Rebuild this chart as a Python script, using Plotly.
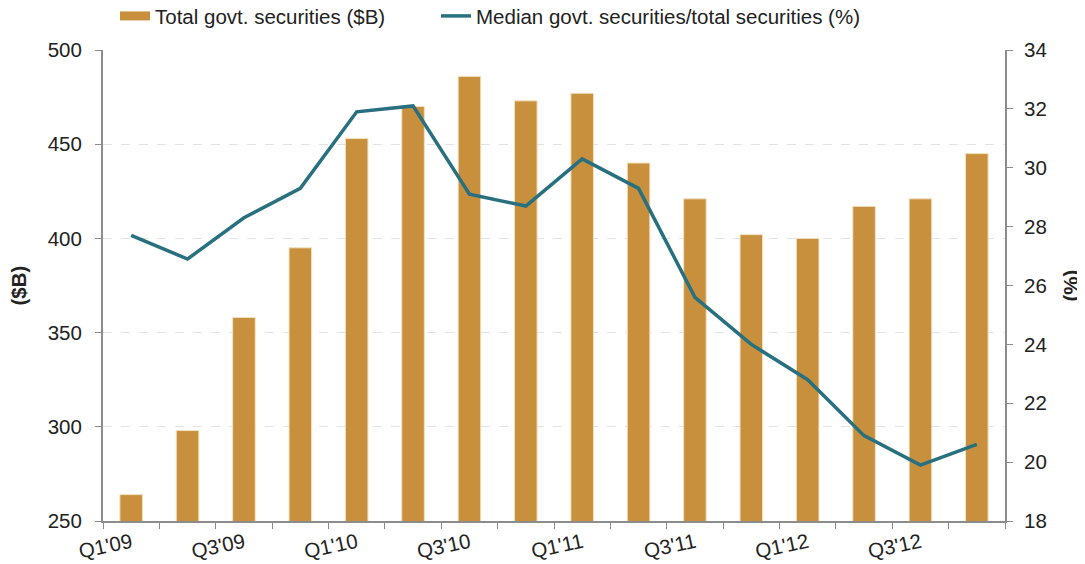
import plotly.graph_objects as go

quarters = ["Q1'09", "Q2'09", "Q3'09", "Q4'09", "Q1'10", "Q2'10", "Q3'10", "Q4'10",
            "Q1'11", "Q2'11", "Q3'11", "Q4'11", "Q1'12", "Q2'12", "Q3'12", "Q4'12"]
tick_labels = ["Q1'09", "", "Q3'09", "", "Q1'10", "", "Q3'10", "",
               "Q1'11", "", "Q3'11", "", "Q1'12", "", "Q3'12", ""]
govt_securities = [264, 298, 358, 395, 453, 470, 486, 473,
                   477, 440, 421, 402, 400, 417, 421, 445]
median_ratio = [27.7, 26.9, 28.3, 29.3, 31.9, 32.1, 29.1, 28.7,
                30.3, 29.3, 25.6, 24.0, 22.8, 20.9, 19.9, 20.6]

bar_name = "Total govt. securities ($B)"
line_name = "Median govt. securities/total securities (%)"
bar_color = "#C8903C"
line_color = "#28707F"
axis_color = "#8C8C8C"
font_size = 20.5

W, H = 1077, 556

fig = go.Figure()
fig.add_trace(go.Bar(
    x=quarters, y=govt_securities, name=bar_name, width=0.4,
    marker=dict(color=bar_color, line=dict(color="#F2E0C0", width=1)),
    showlegend=False, yaxis="y",
))
# legend entry for the bars (wide swatch)
fig.add_trace(go.Scatter(
    x=[None], y=[None], mode="lines", name=bar_name,
    line=dict(color=bar_color, width=9), yaxis="y", legend="legend",
))
fig.add_trace(go.Scatter(
    x=quarters, y=median_ratio, mode="lines", name=line_name,
    line=dict(color=line_color, width=3.5), yaxis="y2", legend="legend2",
))

legend_common = dict(
    orientation="h", xref="container", yref="paper",
    xanchor="left", yanchor="middle",
    font=dict(size=font_size, color="#222222"),
    bgcolor="rgba(0,0,0,0)", borderwidth=0,
)

fig.update_layout(
    width=W, height=H,
    margin=dict(l=95, r=80, t=42, b=43, autoexpand=False),
    paper_bgcolor="white", plot_bgcolor="white",
    font=dict(family="Liberation Sans, Arial, sans-serif", size=font_size, color="#222222"),
    legend=dict(x=107 / W, y=1.072, **legend_common),
    legend2=dict(x=428 / W, y=1.072, **legend_common),
    xaxis=dict(
        type="category", categoryorder="array", categoryarray=quarters,
        tickmode="array", tickvals=quarters, ticktext=tick_labels,
        tickson="boundaries", ticks="outside", ticklen=6, tickcolor=axis_color,
        showline=True, linecolor=axis_color, linewidth=2,
        tickangle=-12, range=[-0.5, 15.5], showgrid=False, automargin=False,
    ),
    yaxis=dict(
        range=[250, 500], dtick=50, tick0=250,
        ticks="outside", ticklen=6, tickcolor=axis_color,
        showline=True, linecolor=axis_color, linewidth=2,
        showgrid=True, gridcolor="#E3E3E3", griddash="dash", gridwidth=1,
        zeroline=False, automargin=False, ticklabelstandoff=9,
    ),
    yaxis2=dict(
        range=[18, 34], dtick=2, tick0=18, overlaying="y", side="right",
        ticks="outside", ticklen=6, tickcolor=axis_color,
        showline=True, linecolor=axis_color, linewidth=2,
        showgrid=False, zeroline=False, automargin=False, ticklabelstandoff=7,
    ),
    annotations=[
        dict(text="<b>($B)</b>", xref="paper", yref="paper", x=0, y=0.5,
             xshift=-85, textangle=-90, showarrow=False,
             xanchor="center", yanchor="middle",
             font=dict(size=font_size, color="#222222")),
        dict(text="<b>(%)</b>", xref="paper", yref="paper", x=1, y=0.5,
             xshift=65, textangle=-90, showarrow=False,
             xanchor="center", yanchor="middle",
             font=dict(size=font_size, color="#222222")),
    ],
)

fig.write_html("out.html")
